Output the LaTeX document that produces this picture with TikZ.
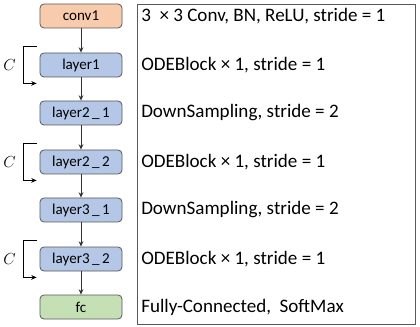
\documentclass[tikz,border=0pt]{standalone}
\usepackage{fontspec}
\setmainfont{Carlito}
\usepackage{tikz}
\usetikzlibrary{arrows.meta,positioning,calc}
\definecolor{convorange}{HTML}{F8CBAD}
\definecolor{layerblue}{HTML}{B4C7E7}
\definecolor{fcgreen}{HTML}{C5E0B4}
\definecolor{edgegray}{HTML}{595959}

\begin{document}
\begin{tikzpicture}[
  x=0.75pt,y=-0.75pt,
  blk/.style={draw=edgegray,rounded corners=3pt,minimum height=18pt,minimum width=61.5pt,
              font=\fontsize{11.3}{13}\selectfont,fill=layerblue,line width=0.6pt,inner sep=0pt},
  desc/.style={anchor=west,font=\fontsize{14.3}{16}\selectfont,inner sep=0pt},
  arr/.style={-{Stealth[length=4pt,width=3.5pt]},line width=0.6pt,color=black!80},
  loop/.style={->,>={Stealth[length=4pt,width=3.5pt]},line width=0.6pt,color=black}
]
  \useasboundingbox (0,0) rectangle (420,327);

  % Network blocks
  \node[blk,fill=convorange] (conv1) at (81,16) {conv1};
  \node[blk] (layer1) at (81,65) {layer1};
  \node[blk] (layer21) at (81,113) {layer2\,\_\,1};
  \node[blk] (layer22) at (81,162) {layer2\,\_\,2};
  \node[blk] (layer31) at (81,210) {layer3\,\_\,1};
  \node[blk] (layer32) at (81,259) {layer3\,\_\,2};
  \node[blk,fill=fcgreen] (fc) at (81,307) {fc};

  % Arrows
  \draw[arr] (conv1) -- (layer1);
  \draw[arr] (layer1) -- (layer21);
  \draw[arr] (layer21) -- (layer22);
  \draw[arr] (layer22) -- (layer31);
  \draw[arr] (layer31) -- (layer32);
  \draw[arr] (layer32) -- (fc);

  % ODE loops
  \foreach \blk in {layer1,layer22,layer32}{
    \draw[loop] ($(\blk.north west)+(-3,-6)$) -| ($(\blk.south west)+(-16,6)$) -- ($(\blk.south west)+(-3,6)$);
    \node[font=\fontsize{12}{14}\selectfont] at ($(\blk.west)+(-30,0)$) {$C$};
  }

  % Description panel
  \node[draw=black!65,line width=0.8pt,minimum width=208.5pt,minimum height=240pt,inner sep=0pt,
        anchor=north west] (panel) at (137,4) {};
  \node[desc] (d1) at (141,16) {3\ \ × 3 Conv, BN, ReLU, stride = 1};
  \node[desc] (d2) at (141,65) {ODEBlock × 1, stride = 1};
  \node[desc] (d3) at (141,113) {DownSampling, stride = 2};
  \node[desc] (d4) at (141,162) {ODEBlock × 1, stride = 1};
  \node[desc] (d5) at (141,210) {DownSampling, stride = 2};
  \node[desc] (d6) at (141,259) {ODEBlock × 1, stride = 1};
  \node[desc] (d7) at (141,307) {Fully-Connected,\ \ SoftMax};
\end{tikzpicture}
\end{document}
